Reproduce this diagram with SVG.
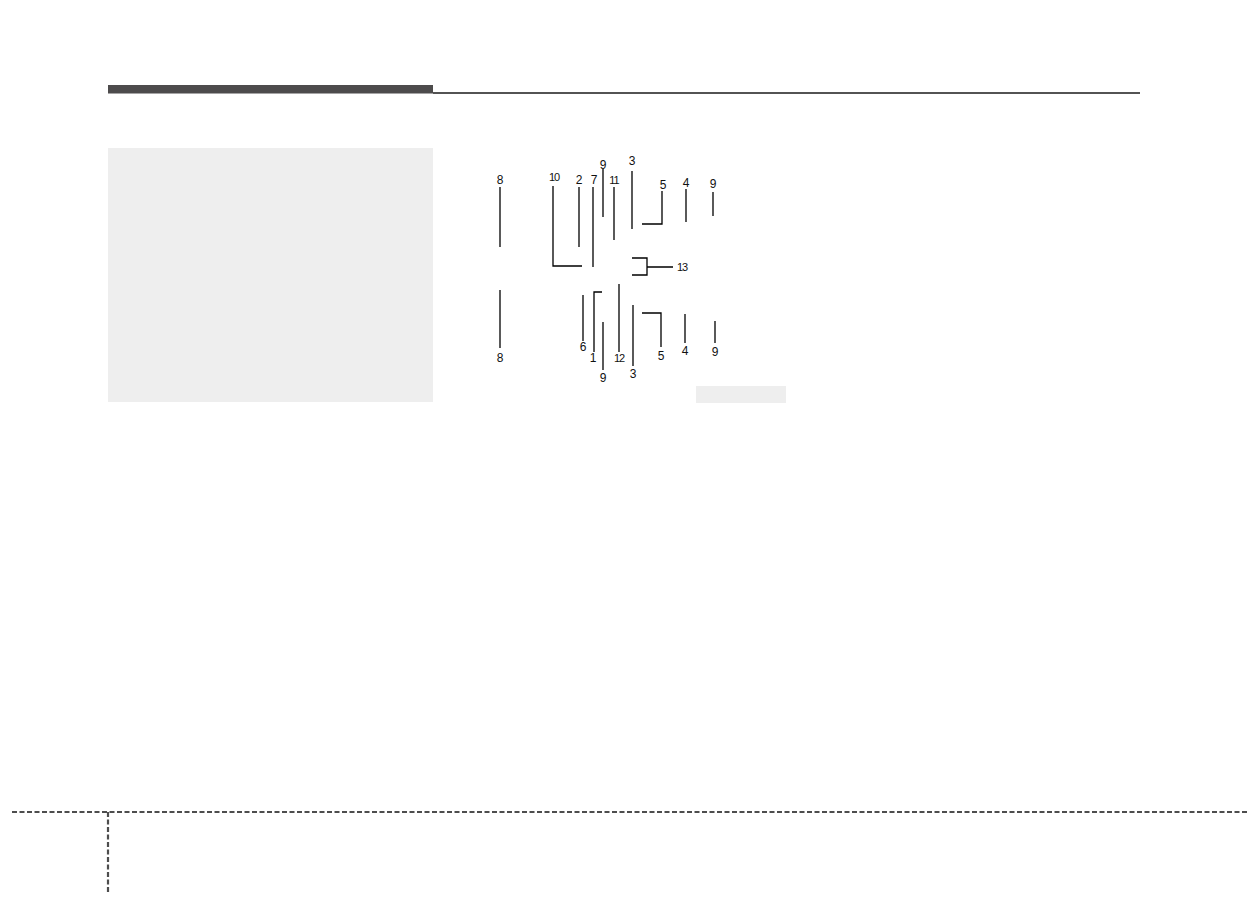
<svg xmlns="http://www.w3.org/2000/svg" width="1249" height="897" viewBox="0 0 1249 897">
<style>
.lbl{font-family:"Liberation Sans",Arial,sans-serif;font-size:12px;fill:#111;text-anchor:middle}
.lbl2{font-family:"Liberation Sans",Arial,sans-serif;font-size:11px;fill:#111;text-anchor:middle;letter-spacing:-1px}
.ln{stroke:#000;stroke-width:1.3;fill:none}
.dash{stroke:#4d4d4d;stroke-width:2.2;stroke-dasharray:5 2.5;fill:none}
</style>
<rect width="1249" height="897" fill="#ffffff"/>
<g id="header">
<rect x="108" y="85" width="325" height="8.5" fill="#4d4b4c"/>
<line x1="433" y1="93" x2="1140" y2="93" stroke="#1a1a1a" stroke-width="1.3"/>
</g>
<rect id="side-panel" x="108" y="148" width="325" height="254" fill="#eeeeee"/>
<rect id="caption-box" x="696" y="386" width="90" height="17" fill="#eeeeee"/>
<g id="footer">
<line class="dash" x1="12" y1="812" x2="1249" y2="812"/>
<line class="dash" x1="108" y1="812" x2="108" y2="893"/>
</g>
<g id="connectors">
<path class="ln" d="M500 187V247"/>
<path class="ln" d="M553 186V266H582"/>
<path class="ln" d="M579 187V247"/>
<path class="ln" d="M593 187V267"/>
<path class="ln" d="M603 169V217"/>
<path class="ln" d="M614 187V240"/>
<path class="ln" d="M632 171V229"/>
<path class="ln" d="M662 191V224H642"/>
<path class="ln" d="M686 189V222"/>
<path class="ln" d="M713 192V216"/>
<path class="ln" d="M632 258H647V275H632M647 267H673"/>
<path class="ln" d="M500 290V348"/>
<path class="ln" d="M583 295V341"/>
<path class="ln" d="M602 292H594V352"/>
<path class="ln" d="M603 322V370"/>
<path class="ln" d="M619 284V352"/>
<path class="ln" d="M633 305V366"/>
<path class="ln" d="M642 313H661V347"/>
<path class="ln" d="M685 314V343"/>
<path class="ln" d="M715 321V343"/>
</g>
<g id="labels">
<text id="t8a" class="lbl" x="500" y="184">8</text>
<text id="t10" class="lbl2" x="554" y="181">10</text>
<text id="t2" class="lbl" x="579" y="184">2</text>
<text id="t7" class="lbl" x="594" y="184">7</text>
<text id="t9a" class="lbl" x="603" y="169">9</text>
<text id="t11" class="lbl2" x="614" y="184">11</text>
<text id="t3a" class="lbl" x="632" y="165">3</text>
<text id="t5a" class="lbl" x="663" y="189">5</text>
<text id="t4a" class="lbl" x="686" y="187">4</text>
<text id="t9b" class="lbl" x="713" y="188">9</text>
<text id="t13" class="lbl2" x="682" y="271">13</text>
<text id="t8b" class="lbl" x="500" y="362">8</text>
<text id="t6" class="lbl" x="583" y="351">6</text>
<text id="t1" class="lbl" x="593" y="362">1</text>
<text id="t12" class="lbl2" x="619" y="362">12</text>
<text id="t9c" class="lbl" x="603" y="382">9</text>
<text id="t3b" class="lbl" x="633" y="378">3</text>
<text id="t5b" class="lbl" x="661" y="360">5</text>
<text id="t4b" class="lbl" x="685" y="355">4</text>
<text id="t9d" class="lbl" x="715" y="356">9</text>
</g>
</svg>
